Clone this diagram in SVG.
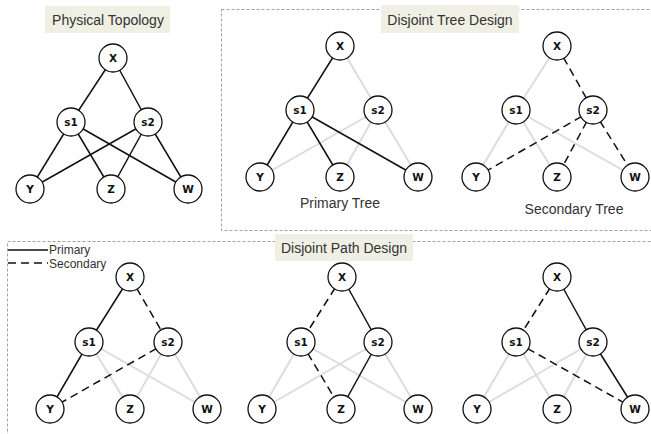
<svg xmlns="http://www.w3.org/2000/svg" width="651" height="434" viewBox="0 0 651 434">
  <style>
    .frame { fill: none; stroke: #a0a0a0; stroke-width: 1; stroke-dasharray: 3 2; }
    .tag { fill: #efefe4; }
    .title { font-family: "Liberation Sans", Arial, sans-serif; font-size: 14px; fill: #333; text-anchor: middle; }
    .legend { font-family: "Liberation Sans", Arial, sans-serif; font-size: 12px; fill: #333; }
    .node circle { fill: #fff; stroke: #111; stroke-width: 1.3; }
    .node text { font-family: "DejaVu Sans", sans-serif; font-weight: bold; font-size: 10.5px; fill: #111; text-anchor: middle; dominant-baseline: central; }
    .solid { stroke: #111; stroke-width: 1.5; fill: none; }
    .dash { stroke: #111; stroke-width: 1.5; fill: none; stroke-dasharray: 8 5; }
    .dim { stroke: #dcdcdc; stroke-width: 2; fill: none; }
  </style>

  <!-- frames and section headings -->
  <rect class="frame" x="221.5" y="9.5" width="440" height="221"/>
  <rect class="frame" x="7.5" y="241.5" width="660" height="200"/>
  <rect class="tag" x="45" y="6" width="125" height="27"/>
  <text class="title" x="108" y="25">Physical Topology</text>
  <rect class="tag" x="381" y="5" width="138" height="28"/>
  <text class="title" x="450" y="25">Disjoint Tree Design</text>
  <rect class="tag" x="275" y="234" width="138" height="27"/>
  <text class="title" x="344" y="253">Disjoint Path Design</text>
  <text class="title" x="340" y="208">Primary Tree</text>
  <text class="title" x="574" y="214">Secondary Tree</text>

  <!-- legend -->
  <g id="legend">
    <line class="solid" x1="8" y1="250" x2="48" y2="250"/>
    <text class="legend" x="49" y="254">Primary</text>
    <line class="dash" x1="8" y1="263" x2="48" y2="263" stroke-dasharray="7 4"/>
    <text class="legend" x="49" y="267.5">Secondary</text>
  </g>

  <g id="connectors">
    <!-- physical topology -->
    <line class="solid" x1="113" y1="58" x2="71" y2="122"/>
    <line class="solid" x1="113" y1="58" x2="148" y2="122"/>
    <line class="solid" x1="71" y1="122" x2="30" y2="189"/>
    <line class="solid" x1="71" y1="122" x2="111" y2="189"/>
    <line class="solid" x1="71" y1="122" x2="188" y2="189"/>
    <line class="solid" x1="148" y1="122" x2="30" y2="189"/>
    <line class="solid" x1="148" y1="122" x2="111" y2="189"/>
    <line class="solid" x1="148" y1="122" x2="188" y2="189"/>

    <!-- primary tree -->
    <line class="dim" x1="340" y1="46" x2="378" y2="110"/>
    <line class="dim" x1="378" y1="110" x2="260" y2="177"/>
    <line class="dim" x1="378" y1="110" x2="340" y2="177"/>
    <line class="dim" x1="378" y1="110" x2="418" y2="177"/>
    <line class="solid" x1="340" y1="46" x2="300" y2="110"/>
    <line class="solid" x1="300" y1="110" x2="260" y2="177"/>
    <line class="solid" x1="300" y1="110" x2="340" y2="177"/>
    <line class="solid" x1="300" y1="110" x2="418" y2="177"/>

    <!-- secondary tree -->
    <line class="dim" x1="557" y1="46" x2="516" y2="110"/>
    <line class="dim" x1="516" y1="110" x2="476" y2="177"/>
    <line class="dim" x1="516" y1="110" x2="557" y2="177"/>
    <line class="dim" x1="516" y1="110" x2="635" y2="177"/>
    <line class="dash" x1="557" y1="46" x2="593" y2="110"/>
    <line class="dash" x1="593" y1="110" x2="476" y2="177"/>
    <line class="dash" x1="593" y1="110" x2="557" y2="177"/>
    <line class="dash" x1="593" y1="110" x2="635" y2="177"/>

    <!-- path pair to Y -->
    <line class="dim" x1="89" y1="342" x2="130" y2="409"/>
    <line class="dim" x1="89" y1="342" x2="207" y2="409"/>
    <line class="dim" x1="168" y1="342" x2="130" y2="409"/>
    <line class="dim" x1="168" y1="342" x2="207" y2="409"/>
    <line class="solid" x1="130" y1="277" x2="89" y2="342"/>
    <line class="solid" x1="89" y1="342" x2="50" y2="409"/>
    <line class="dash" x1="130" y1="277" x2="168" y2="342"/>
    <line class="dash" x1="168" y1="342" x2="50" y2="409"/>

    <!-- path pair to Z -->
    <line class="dim" x1="301" y1="342" x2="262" y2="409"/>
    <line class="dim" x1="301" y1="342" x2="418" y2="409"/>
    <line class="dim" x1="378" y1="342" x2="262" y2="409"/>
    <line class="dim" x1="378" y1="342" x2="418" y2="409"/>
    <line class="dash" x1="342" y1="277" x2="301" y2="342"/>
    <line class="dash" x1="301" y1="342" x2="341" y2="409"/>
    <line class="solid" x1="342" y1="277" x2="378" y2="342"/>
    <line class="solid" x1="378" y1="342" x2="341" y2="409"/>

    <!-- path pair to W -->
    <line class="dim" x1="516" y1="342" x2="477" y2="409"/>
    <line class="dim" x1="516" y1="342" x2="557" y2="409"/>
    <line class="dim" x1="593" y1="342" x2="477" y2="409"/>
    <line class="dim" x1="593" y1="342" x2="557" y2="409"/>
    <line class="dash" x1="557" y1="277" x2="516" y2="342"/>
    <line class="dash" x1="516" y1="342" x2="635" y2="409"/>
    <line class="solid" x1="557" y1="277" x2="593" y2="342"/>
    <line class="solid" x1="593" y1="342" x2="635" y2="409"/>
  </g>

  <!-- physical topology nodes -->
  <g id="phys-X" class="node"><circle cx="113" cy="58" r="14"/><text x="113" y="58">X</text></g>
  <g id="phys-s1" class="node"><circle cx="71" cy="122" r="14"/><text x="71" y="122">s1</text></g>
  <g id="phys-s2" class="node"><circle cx="148" cy="122" r="14"/><text x="148" y="122">s2</text></g>
  <g id="phys-Y" class="node"><circle cx="30" cy="189" r="14"/><text x="30" y="189">Y</text></g>
  <g id="phys-Z" class="node"><circle cx="111" cy="189" r="14"/><text x="111" y="189">Z</text></g>
  <g id="phys-W" class="node"><circle cx="188" cy="189" r="14"/><text x="188" y="189">W</text></g>

  <!-- primary tree nodes -->
  <g id="pri-X" class="node"><circle cx="340" cy="46" r="14"/><text x="340" y="46">X</text></g>
  <g id="pri-s1" class="node"><circle cx="300" cy="110" r="14"/><text x="300" y="110">s1</text></g>
  <g id="pri-s2" class="node"><circle cx="378" cy="110" r="14"/><text x="378" y="110">s2</text></g>
  <g id="pri-Y" class="node"><circle cx="260" cy="177" r="14"/><text x="260" y="177">Y</text></g>
  <g id="pri-Z" class="node"><circle cx="340" cy="177" r="14"/><text x="340" y="177">Z</text></g>
  <g id="pri-W" class="node"><circle cx="418" cy="177" r="14"/><text x="418" y="177">W</text></g>

  <!-- secondary tree nodes -->
  <g id="sec-X" class="node"><circle cx="557" cy="46" r="14"/><text x="557" y="46">X</text></g>
  <g id="sec-s1" class="node"><circle cx="516" cy="110" r="14"/><text x="516" y="110">s1</text></g>
  <g id="sec-s2" class="node"><circle cx="593" cy="110" r="14"/><text x="593" y="110">s2</text></g>
  <g id="sec-Y" class="node"><circle cx="476" cy="177" r="14"/><text x="476" y="177">Y</text></g>
  <g id="sec-Z" class="node"><circle cx="557" cy="177" r="14"/><text x="557" y="177">Z</text></g>
  <g id="sec-W" class="node"><circle cx="635" cy="177" r="14"/><text x="635" y="177">W</text></g>

  <!-- disjoint paths to Y -->
  <g id="py-X" class="node"><circle cx="130" cy="277" r="14"/><text x="130" y="277">X</text></g>
  <g id="py-s1" class="node"><circle cx="89" cy="342" r="14"/><text x="89" y="342">s1</text></g>
  <g id="py-s2" class="node"><circle cx="168" cy="342" r="14"/><text x="168" y="342">s2</text></g>
  <g id="py-Y" class="node"><circle cx="50" cy="409" r="14"/><text x="50" y="409">Y</text></g>
  <g id="py-Z" class="node"><circle cx="130" cy="409" r="14"/><text x="130" y="409">Z</text></g>
  <g id="py-W" class="node"><circle cx="207" cy="409" r="14"/><text x="207" y="409">W</text></g>

  <!-- disjoint paths to Z -->
  <g id="pz-X" class="node"><circle cx="342" cy="277" r="14"/><text x="342" y="277">X</text></g>
  <g id="pz-s1" class="node"><circle cx="301" cy="342" r="14"/><text x="301" y="342">s1</text></g>
  <g id="pz-s2" class="node"><circle cx="378" cy="342" r="14"/><text x="378" y="342">s2</text></g>
  <g id="pz-Y" class="node"><circle cx="262" cy="409" r="14"/><text x="262" y="409">Y</text></g>
  <g id="pz-Z" class="node"><circle cx="341" cy="409" r="14"/><text x="341" y="409">Z</text></g>
  <g id="pz-W" class="node"><circle cx="418" cy="409" r="14"/><text x="418" y="409">W</text></g>

  <!-- disjoint paths to W -->
  <g id="pw-X" class="node"><circle cx="557" cy="277" r="14"/><text x="557" y="277">X</text></g>
  <g id="pw-s1" class="node"><circle cx="516" cy="342" r="14"/><text x="516" y="342">s1</text></g>
  <g id="pw-s2" class="node"><circle cx="593" cy="342" r="14"/><text x="593" y="342">s2</text></g>
  <g id="pw-Y" class="node"><circle cx="477" cy="409" r="14"/><text x="477" y="409">Y</text></g>
  <g id="pw-Z" class="node"><circle cx="557" cy="409" r="14"/><text x="557" y="409">Z</text></g>
  <g id="pw-W" class="node"><circle cx="635" cy="409" r="14"/><text x="635" y="409">W</text></g>
</svg>
